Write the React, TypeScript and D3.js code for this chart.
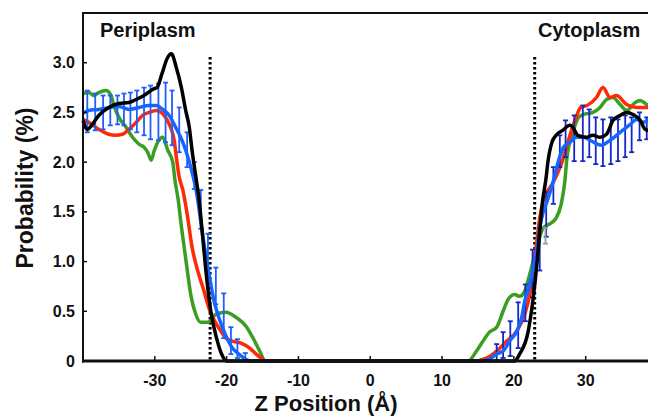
import React from "react";
import * as d3 from "d3";

const W = 648;
const H = 416;

// Z positions (Å) and probabilities (%)
const blackZ = [-40, -39.4, -38.5, -37.8, -36.4, -35.0, -33.6, -32.9, -31.5, -30.1, -29.7, -29.0, -28.3, -27.7, -27.0, -26.3, -25.7, -25.2, -24.8, -24.3, -23.8, -23.4, -22.7, -22.2, -21.4, -20.7, -20.0, 20.1, 20.8, 22.0, 22.7, 23.2, 23.6, 24.0, 24.5, 24.7, 25.3, 26.0, 26.8, 27.8, 28.2, 28.9, 30.1, 31.0, 32.0, 32.9, 33.8, 34.8, 35.7, 36.6, 37.6, 38.3, 40];
const blackP = [2.42, 2.33, 2.40, 2.47, 2.55, 2.59, 2.60, 2.62, 2.67, 2.74, 2.75, 2.89, 3.04, 3.09, 2.95, 2.75, 2.52, 2.35, 2.11, 1.86, 1.60, 1.30, 0.78, 0.50, 0.23, 0.07, 0, 0, 0.07, 0.30, 0.64, 0.97, 1.31, 1.61, 1.85, 1.98, 2.20, 2.28, 2.32, 2.37, 2.35, 2.27, 2.25, 2.27, 2.25, 2.28, 2.42, 2.47, 2.50, 2.48, 2.42, 2.33, 2.30];

const redZ = [-40, -39.2, -37.8, -36.4, -35.5, -34.5, -33.6, -32.6, -31.7, -30.8, -29.8, -29.1, -28.5, -27.8, -27.3, -27.0, -26.6, -26.1, -25.5, -24.8, -24.0, -23.3, -22.3, -21.5, -20.8, -20.1, -19.2, -18.0, -16.8, -15.9, -15.0, -14.6, 14.3, 16.2, 17.6, 19.0, 20.4, 21.5, 22.2, 22.7, 23.2, 23.6, 24.1, 25.5, 26.7, 27.6, 28.5, 29.3, 30.2, 31.5, 32.4, 33.4, 34.3, 35.7, 37.1, 38.5, 40];
const redP = [2.43, 2.40, 2.33, 2.28, 2.27, 2.28, 2.33, 2.40, 2.47, 2.50, 2.52, 2.50, 2.45, 2.35, 2.22, 2.05, 1.85, 1.72, 1.48, 1.14, 0.90, 0.74, 0.50, 0.38, 0.30, 0.23, 0.20, 0.18, 0.13, 0.07, 0.02, 0, 0, 0.03, 0.10, 0.20, 0.30, 0.47, 0.67, 0.94, 1.21, 1.44, 1.61, 1.80, 2.00, 2.22, 2.42, 2.55, 2.57, 2.65, 2.75, 2.65, 2.67, 2.58, 2.55, 2.55, 2.53];

const greenZ = [-40, -39.2, -38.5, -37.8, -36.8, -36.1, -35.7, -35.0, -34.0, -33.1, -32.2, -31.5, -31.0, -30.5, -30.1, -29.6, -28.9, -28.2, -27.5, -27.2, -26.7, -26.4, -25.9, -25.4, -25.0, -24.3, -23.6, -22.6, -21.5, -20.1, -18.7, -17.3, -16.1, -15.2, -14.7, 13.6, 14.8, 15.7, 16.6, 17.6, 18.5, 19.2, 20.1, 20.8, 21.5, 22.2, 23.2, 24.1, 25.0, 25.9, 26.6, 27.1, 27.4, 28.3, 29.0, 29.7, 31.0, 32.0, 32.9, 33.8, 34.8, 35.7, 36.9, 37.6, 38.5, 40];
const greenP = [2.69, 2.70, 2.67, 2.70, 2.72, 2.67, 2.57, 2.45, 2.35, 2.25, 2.18, 2.15, 2.10, 2.02, 2.11, 2.20, 2.25, 2.12, 2.00, 1.82, 1.60, 1.41, 1.14, 0.87, 0.67, 0.47, 0.39, 0.39, 0.47, 0.49, 0.44, 0.35, 0.20, 0.07, 0, 0, 0.10, 0.20, 0.29, 0.34, 0.50, 0.62, 0.67, 0.65, 0.70, 0.87, 1.14, 1.34, 1.38, 1.44, 1.58, 1.81, 2.05, 2.32, 2.45, 2.48, 2.50, 2.55, 2.63, 2.65, 2.58, 2.52, 2.60, 2.62, 2.58, 2.55];

const blueZ = [-40, -39.2, -37.8, -36.4, -35.0, -33.6, -32.2, -30.8, -29.8, -28.9, -28.0, -27.1, -26.4, -25.7, -25.0, -24.2, -23.3, -22.4, -21.8, -21.1, -20.2, -19.2, -18.3, -17.4, -16.8, 15.5, 16.6, 17.6, 18.5, 19.4, 20.4, 21.1, 21.5, 22.2, 22.7, 23.2, 23.6, 24.1, 24.5, 25.5, 26.2, 26.9, 27.8, 28.7, 29.7, 30.6, 32.2, 33.4, 34.8, 36.2, 37.1, 38.0, 38.6, 40];
const blueP = [2.49, 2.52, 2.53, 2.55, 2.56, 2.53, 2.55, 2.57, 2.57, 2.53, 2.47, 2.35, 2.25, 2.12, 1.95, 1.70, 1.25, 0.85, 0.62, 0.44, 0.27, 0.13, 0.07, 0.02, 0, 0, 0.02, 0.07, 0.10, 0.20, 0.30, 0.44, 0.60, 0.77, 0.94, 1.11, 1.34, 1.50, 1.58, 1.81, 2.01, 2.15, 2.20, 2.25, 2.25, 2.22, 2.17, 2.22, 2.30, 2.38, 2.43, 2.40, 2.42, 2.40];

// error bars (periplasm side)
const errLZ = [-39.4, -38.3, -37.2, -36.2, -35.2, -34.3, -33.4, -32.5, -31.5, -30.6, -29.5, -28.5, -27.6, -26.6, -25.5, -24.5, -23.6, -22.6, -21.5, -20.4, -19.4, -18.5, -17.4];
const errLLo = [2.30, 2.32, 2.33, 2.37, 2.38, 2.37, 2.33, 2.30, 2.27, 2.23, 2.22, 2.20, 2.17, 2.10, 1.95, 1.73, 1.33, 0.94, 0.57, 0.23, 0.07, 0.03, 0.0];
const errLHi = [2.72, 2.69, 2.67, 2.67, 2.67, 2.69, 2.70, 2.72, 2.75, 2.77, 2.79, 2.80, 2.72, 2.55, 2.30, 2.00, 1.72, 1.28, 0.94, 0.68, 0.34, 0.22, 0.08];
// error bars (cytoplasm side)
const errRZ = [17.6, 18.5, 19.5, 20.6, 21.6, 22.6, 23.6, 24.5, 25.5, 26.4, 27.2, 28.4, 29.6, 30.5, 31.4, 32.4, 33.5, 34.5, 35.5, 36.4, 37.5, 38.5];
const errRLo = [0.0, 0.03, 0.05, 0.13, 0.40, 0.64, 0.91, 1.25, 1.58, 1.95, 2.05, 2.01, 2.01, 2.05, 1.98, 1.96, 1.98, 2.01, 2.05, 2.10, 2.22, 2.23];
const errRHi = [0.17, 0.29, 0.40, 0.59, 0.77, 1.12, 1.34, 1.70, 1.95, 2.27, 2.42, 2.47, 2.57, 2.53, 2.45, 2.43, 2.45, 2.43, 2.47, 2.45, 2.50, 2.45];
const errGZ = [24.4];
const errGLo = [1.18];
const errGHi = [1.34];

const boundaries = [-22.3, 22.9];
const xTicks = [-30, -20, -10, 0, 10, 20, 30];
const yTicks = [0, 0.5, 1.0, 1.5, 2.0, 2.5, 3.0];
const yTickLabels = ["0", "0.5", "1.0", "1.5", "2.0", "2.5", "3.0"];

const FONT = "'Liberation Sans', Arial, Helvetica, sans-serif";

export default function App() {
  const x = d3.scaleLinear().domain([-40, 40]).range([83, 657.5]);
  const y = d3.scaleLinear().domain([0, 3.5]).range([361, 13]);
  const line = d3
    .line<[number, number]>()
    .x((d) => x(d[0]))
    .y((d) => y(d[1]))
    .curve(d3.curveMonotoneX);
  const zip = (a: number[], b: number[]) => a.map((v, i) => [v, b[i]] as [number, number]);

  const bars = (zs: number[], lo: number[], hi: number[], color: string, key: string) =>
    zs.map((z, i) => (
      <g key={key + i} stroke={color} strokeWidth={1.8} fill="none">
        <line x1={x(z)} x2={x(z)} y1={y(lo[i])} y2={y(hi[i])} />
        <line x1={x(z) - 2.5} x2={x(z) + 2.5} y1={y(lo[i])} y2={y(lo[i])} />
        <line x1={x(z) - 2.5} x2={x(z) + 2.5} y1={y(hi[i])} y2={y(hi[i])} />
      </g>
    ));

  return (
    <svg
      width={W}
      height={H}
      style={{ position: "absolute", left: 0, top: 0, background: "#fff" }}
      fontFamily={FONT}
    >
      <rect x={0} y={0} width={W} height={H} fill="#fff" />
      {/* boundaries */}
      {boundaries.map((b, i) => (
        <line key={"b" + i} x1={x(b)} x2={x(b)} y1={57} y2={y(0)} stroke="#000" strokeWidth={3} strokeDasharray="2.5,2.5" />
      ))}
      {/* curves */}
      <path d={line(zip(greenZ, greenP)) || ""} fill="none" stroke="#3a9e22" strokeWidth={3.5} />
      <path d={line(zip(redZ, redP)) || ""} fill="none" stroke="#ff2a05" strokeWidth={3.5} />
      {bars(errLZ, errLLo, errLHi, "#1f5fff", "l")}
      {bars(errRZ, errRLo, errRHi, "#1428c8", "r")}
      {bars(errGZ, errGLo, errGHi, "#9a9a9a", "g")}
      <path d={line(zip(blueZ, blueP)) || ""} fill="none" stroke="#1665ff" strokeWidth={3.5} />
      <path d={line(zip(blackZ, blackP)) || ""} fill="none" stroke="#000" strokeWidth={3.5} />

      {/* frame */}
      <line x1={83} x2={W + 10} y1={13} y2={13} stroke="#111" strokeWidth={2} />
      <line x1={83} x2={83} y1={12} y2={y(0) + 1.5} stroke="#111" strokeWidth={2} />
      <line x1={82} x2={W + 10} y1={y(0)} y2={y(0)} stroke="#111" strokeWidth={3} />

      {/* y ticks */}
      {yTicks.map((t, i) => (
        <g key={"yt" + i}>
          {i > 0 && <line x1={83} x2={87} y1={y(t)} y2={y(t)} stroke="#111" strokeWidth={1.5} />}
          <text x={75} y={y(t) + 5.5} textAnchor="end" fontSize={16} fontWeight="bold" fill="#111">
            {yTickLabels[i]}
          </text>
        </g>
      ))}
      {/* x ticks */}
      {xTicks.map((t, i) => (
        <g key={"xt" + i}>
          <line x1={x(t)} x2={x(t)} y1={y(0)} y2={y(0) - 5} stroke="#111" strokeWidth={1.5} />
          <text x={x(t)} y={386} textAnchor="middle" fontSize={16} fontWeight="bold" fill="#111">
            {t}
          </text>
        </g>
      ))}

      <text x={100} y={37} fontSize={20} fontWeight="bold" fill="#111">Periplasm</text>
      <text x={538} y={37} fontSize={20} fontWeight="bold" fill="#111">Cytoplasm</text>

      <text x={326} y={411} textAnchor="middle" fontSize={22} fontWeight="bold" fill="#111">
        Z Position (Å)
      </text>
      <text
        transform="translate(33,188) rotate(-90)"
        textAnchor="middle"
        fontSize={23}
        fontWeight="bold"
        fill="#111"
      >
        Probability (%)
      </text>
    </svg>
  );
}
